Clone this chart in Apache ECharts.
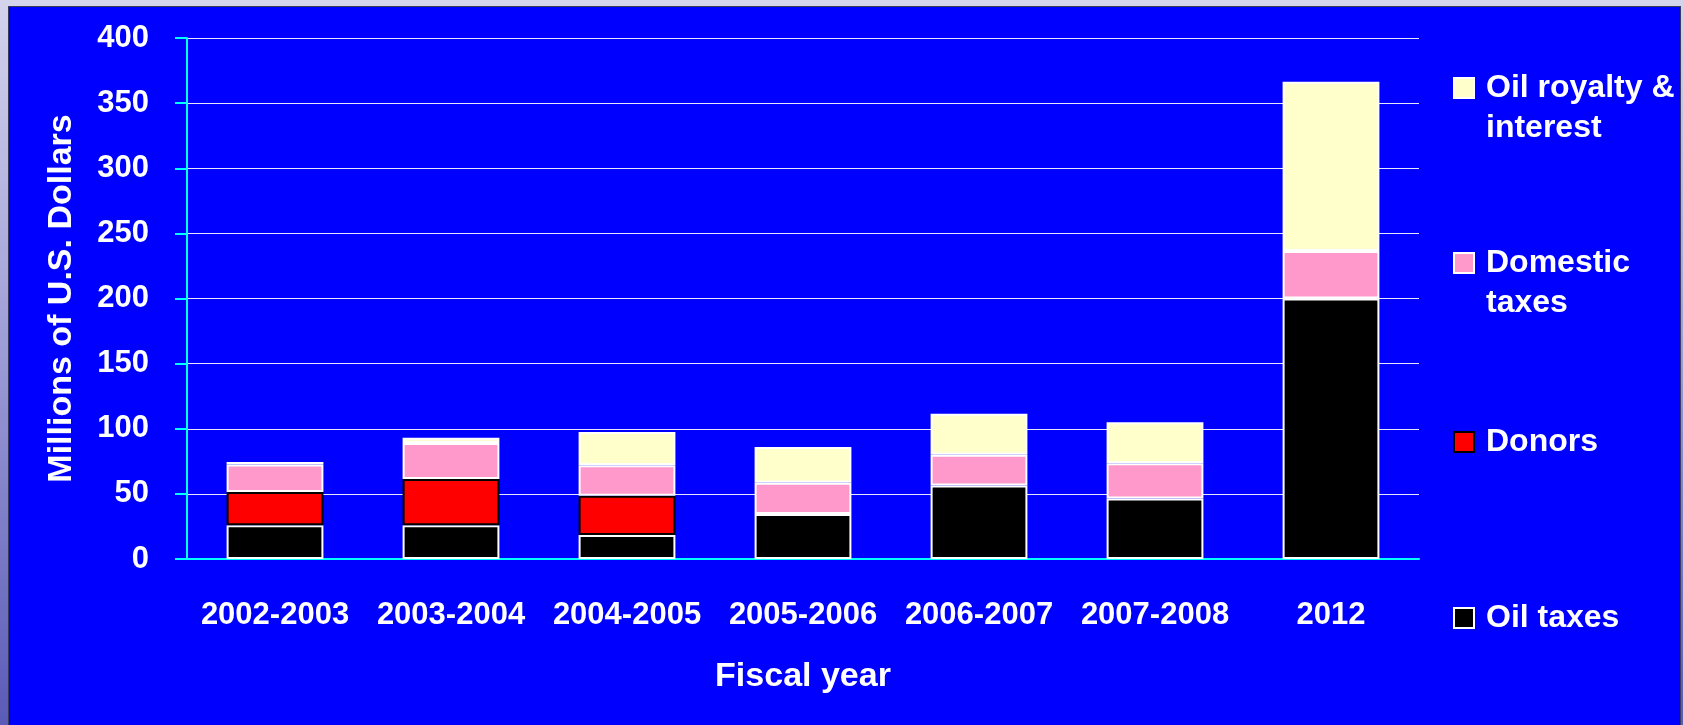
<!DOCTYPE html>
<html>
<head>
<meta charset="utf-8">
<script src="https://cdn.jsdelivr.net/npm/echarts@6/dist/echarts.min.js"></script>
<style>
    html, body {
        margin: 0;
        padding: 0;
        width: 1683px;
        height: 725px;
        overflow: hidden;
        background: linear-gradient(to bottom, #d4d4ec 0%, #a0a0d8 45%, #5a5ab8 100%);
    }
    #panel {
        position: absolute;
        left: 8px;
        top: 6px;
        width: 1671px;
        height: 719px;
        background: #0000ff;
        border-top: 1px solid #3a3a5a;
        border-left: 1px solid #3a3a5a;
        border-right: 1px solid #3a3a5a;
    }
    #main {
        position: absolute;
        left: 0;
        top: 0;
        width: 1683px;
        height: 725px;
    }
</style>
</head>
<body>
<div id="panel"></div>
<div id="main"></div>
<script>
// fiscal years on the x axis
const categories = ['2002-2003', '2003-2004', '2004-2005', '2005-2006', '2006-2007', '2007-2008', '2012'];
// millions of U.S. dollars, stacked from the bottom up
const oilTaxes = [26, 26, 18.5, 34.5, 56.5, 46.5, 200];
const donors = [25.5, 35.5, 30, null, null, null, null];
const domesticTaxes = [21, 27.5, 23.5, 24, 23.5, 27, 36.5];
const oilRoyalty = [2, 4, 25.5, 27.5, 31.5, 31.5, 130];

const font = '"Liberation Sans", Arial, sans-serif';
const axisColor = '#00ffff';

let myChart = echarts.init(document.getElementById('main'));

// one legend per item so each can sit at its own height;
// two-line names get an empty first line so the icon lines up with the first text line
const legendItem = (name, top, twoLines) => ({
    orient: 'vertical',
    left: 1453,
    top: top,
    padding: 0,
    icon: 'rect',
    itemWidth: 20,
    itemHeight: 20,
    selectedMode: false,
    data: [name],
    formatter: (n) => (twoLines ? '\n' + n : n),
    textStyle: {
        color: '#fff',
        fontFamily: font,
        fontWeight: 'bold',
        fontSize: 32,
        lineHeight: 40,
        padding: [0, 0, 0, 7]
    }
});

const barSeries = (name, data, color, border) => ({
    name: name,
    type: 'bar',
    stack: 'total',
    barWidth: '55%',
    data: data,
    itemStyle: {
        color: color,
        borderColor: border,
        borderWidth: 2
    }
});

const option = {
    animation: false,
    grid: {
        left: 187,
        top: 38,
        right: 264,
        bottom: 166
    },
    legend: [
        legendItem('Oil royalty &\ninterest', 28, true),
        legendItem('Domestic\ntaxes', 203, true),
        legendItem('Donors', 422, false),
        legendItem('Oil taxes', 598, false)
    ],
    xAxis: {
        type: 'category',
        data: categories,
        name: 'Fiscal year',
        nameLocation: 'middle',
        nameGap: 101,
        nameTextStyle: { color: '#fff', fontFamily: font, fontWeight: 'bold', fontSize: 34 },
        axisLine: { lineStyle: { color: axisColor, width: 2 } },
        axisTick: { length: 12, lineStyle: { color: axisColor, width: 2 } },
        axisLabel: { color: '#fff', fontFamily: font, fontWeight: 'bold', fontSize: 31, margin: 41, interval: 0 }
    },
    yAxis: {
        type: 'value',
        min: 0,
        max: 400,
        interval: 50,
        name: 'Millions of U.S. Dollars',
        nameLocation: 'middle',
        nameGap: 108,
        nameTextStyle: { color: '#fff', fontFamily: font, fontWeight: 'bold', fontSize: 34 },
        axisLine: { show: true, lineStyle: { color: axisColor, width: 2 } },
        axisTick: { show: true, length: 12, lineStyle: { color: axisColor, width: 2 } },
        axisLabel: { color: '#fff', fontFamily: font, fontWeight: 'bold', fontSize: 31, margin: 38 },
        splitLine: { lineStyle: { color: 'rgba(255,255,255,0.9)', width: 1 } }
    },
    series: [
        barSeries('Oil taxes', oilTaxes, '#000000', '#ffffff'),
        barSeries('Donors', donors, '#ff0000', '#000000'),
        barSeries('Domestic\ntaxes', domesticTaxes, '#ff99cc', '#ffffff'),
        barSeries('Oil royalty &\ninterest', oilRoyalty, '#ffffcc', '#ffffff')
    ]
};

myChart.setOption(option);
</script>
</body>
</html>
